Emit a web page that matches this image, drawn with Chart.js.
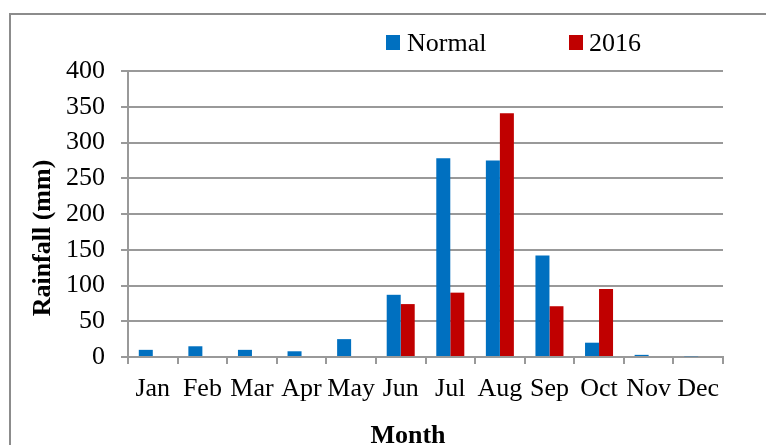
<!DOCTYPE html>
<html>
<head>
<meta charset="utf-8">
<script src="https://cdn.jsdelivr.net/npm/chart.js@4.4.1/dist/chart.umd.min.js"></script>
<style>
  body { margin: 0; background: #fff; }
  #wrap { position: relative; width: 766px; height: 445px; overflow: hidden; background: #fff; }
  #frame { position: absolute; left: 9px; top: 13px; width: 820px; height: 500px;
           border-left: 2px solid #8c8c8c; border-top: 2px solid #8c8c8c; }
  canvas { position: absolute; left: 0; top: 0; }
</style>
</head>
<body>
<div id="wrap">
  <div id="frame"></div>
  <canvas id="barChart" width="766" height="445"></canvas>
</div>
<script>
// data
var months = ["Jan", "Feb", "Mar", "Apr", "May", "Jun", "Jul", "Aug", "Sep", "Oct", "Nov", "Dec"];
var normalRain = [10, 15, 10, 8, 25, 87, 278, 275, 142, 20, 3, 1];
var rain2016 = [0, 0, 0, 0, 0, 74, 90, 341, 71, 95, 0, 0];
var yTicks = [0, 50, 100, 150, 200, 250, 300, 350, 400];

var serif = "'Liberation Serif', 'Times New Roman', serif";
var gridGray = "#999999";

// legend + axis titles drawn as text on top of the chart
var extras = {
  id: "extras",
  afterDraw: function (chart) {
    var ctx = chart.ctx;
    ctx.save();
    var legendPos = [[386, 407], [569, 589]];
    ctx.font = "26px " + serif;
    ctx.textBaseline = "alphabetic";
    ctx.textAlign = "left";
    chart.data.datasets.forEach(function (ds, i) {
      ctx.fillStyle = ds.backgroundColor;
      ctx.fillRect(legendPos[i][0], 35, 14, 15);
      ctx.fillStyle = "#000";
      ctx.fillText(ds.label, legendPos[i][1], 51);
    });

    ctx.font = "bold 26px " + serif;
    ctx.textAlign = "center";
    ctx.fillText("Month", 408, 443);

    ctx.translate(50, 238);
    ctx.rotate(-Math.PI / 2);
    ctx.fillText("Rainfall (mm)", 0, 0);
    ctx.restore();
  }
};

const ctx = document.getElementById("barChart");

var chart = new Chart(ctx, {
  type: "bar",
  data: {
    labels: months,
    datasets: [
      {
        label: "Normal",
        data: normalRain,
        backgroundColor: "#0070C0",
        categoryPercentage: 0.565,
        barPercentage: 1.0,
      },
      {
        label: "2016",
        data: rain2016,
        backgroundColor: "#C00000",
        categoryPercentage: 0.565,
        barPercentage: 1.0,
      },
    ],
  },
  options: {
    responsive: false,
    animation: false,
    layout: { padding: { top: 71, right: 43, left: 0, bottom: 0 } },
    plugins: {
      legend: { display: false },
      tooltip: { enabled: false },
    },
    scales: {
      x: {
        afterFit: function (scale) { scale.height = 88; },
        grid: {
          offset: true,
          drawOnChartArea: false,
          drawTicks: true,
          tickLength: 7,
          color: gridGray,
          lineWidth: 2,
        },
        border: { display: true, color: gridGray, width: 2 },
        ticks: {
          color: "#000",
          font: { family: serif, size: 26 },
          padding: 10,
          maxRotation: 0,
          autoSkip: false,
        },
      },
      y: {
        min: 0,
        max: 400,
        afterFit: function (scale) { scale.width = 128; },
        afterBuildTicks: function (scale) {
          scale.ticks = yTicks.map(function (v) { return { value: v }; });
        },
        grid: {
          color: gridGray,
          lineWidth: 2,
          drawTicks: true,
          tickLength: 7,
        },
        border: { display: true, color: gridGray, width: 2 },
        ticks: {
          color: "#000",
          font: { family: serif, size: 26 },
          padding: 16,
        },
      },
    },
  },
  plugins: [extras],
});
</script>
</body>
</html>
